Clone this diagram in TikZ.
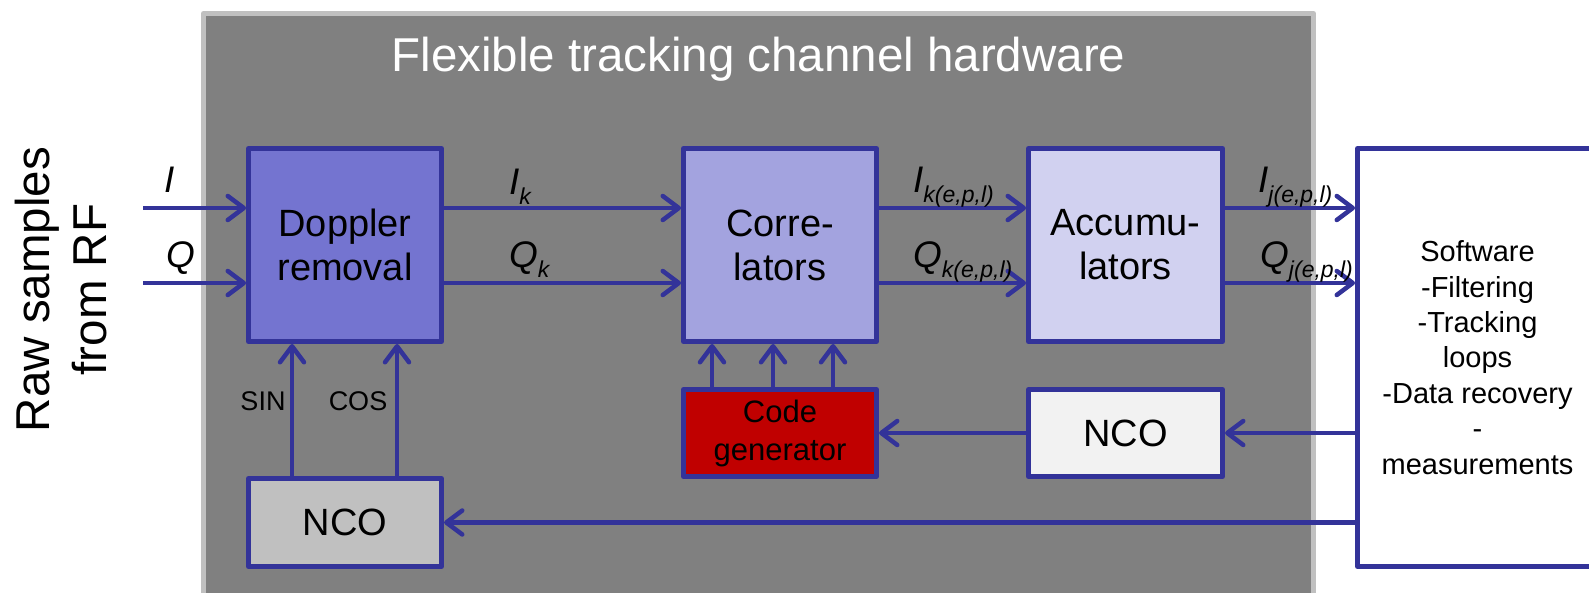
\documentclass[tikz,border=0pt]{standalone}
\usepackage{fontspec}
\setmainfont{Liberation Sans}
\usetikzlibrary{arrows.meta}
\definecolor{linkblue}{HTML}{333399}
\definecolor{panelgray}{HTML}{808080}
\definecolor{panelrim}{HTML}{C0C0C0}
\definecolor{dopblue}{HTML}{7474D0}
\definecolor{corblue}{HTML}{A3A3DF}
\definecolor{accblue}{HTML}{D1D1F0}
\definecolor{codered}{HTML}{C00000}
\definecolor{ncolight}{HTML}{F2F2F2}
\definecolor{ncogray}{HTML}{C0C0C0}
\newcommand{\sgnl}[2]{#1\raisebox{-9.5pt}{\fontsize{23}{23}\selectfont #2}}
\newcommand{\boxfont}{\fontsize{38}{44}\selectfont}

\begin{document}
\begin{tikzpicture}[x=1pt, y=-1pt, line join=round,
    blk/.style={draw=linkblue, line width=5pt, inner sep=0pt, align=center, font=\boxfont},
    arr/.style={draw=linkblue, line width=4.5pt, -{Straight Barb[length=16pt,width=24pt,round]}},
    lbl/.style={inner sep=0pt, anchor=base west, font=\fontsize{37}{44}\selectfont\itshape}]
    \path[use as bounding box, fill=white] (0,0) rectangle (1589,593);
    \clip (0,0) rectangle (1589,593);
    % hardware panel
    \draw[draw=panelrim, fill=panelgray, line width=5pt] (203.5,13.5) rectangle (1313.5,620);
    \node[anchor=base, inner sep=0pt, text=white, font=\fontsize{47.5}{57}\selectfont] (title) at (758.5,72) {Flexible tracking channel hardware};
    \node[rotate=90, inner sep=0pt, align=center, font=\fontsize{47.5}{57}\selectfont] (raw) at (61,289.5) {Raw samples\\from RF};
    % blocks
    \node[blk, fill=dopblue, minimum width=193pt, minimum height=193pt] (dop) at (345,245) {Doppler\\removal};
    \node[blk, fill=corblue, minimum width=193pt, minimum height=193pt] (cor) at (780,245) {Corre-\\lators};
    \node[blk, fill=accblue, minimum width=194pt, minimum height=193pt] (acc) at (1125.5,245) {Accumu-\\lators};
    \node[blk, fill=codered, minimum width=193pt, minimum height=87pt, font=\fontsize{31}{38}\selectfont] (cg) at (780,433) {Code\\generator};
    \node[blk, fill=ncolight, minimum width=194pt, minimum height=87pt] (nco2) at (1125.5,433) {NCO};
    \node[blk, fill=ncogray, minimum width=193pt, minimum height=88pt] (nco1) at (345,522.5) {NCO};
    \node[blk, fill=white, minimum width=240pt, minimum height=418pt, font=\fontsize{29}{35.4}\selectfont] (sw) at (1477.5,357.5) {Software\\-Filtering\\-Tracking\\loops\\-Data recovery\\-\\measurements};
    % I and Q paths
    \coordinate (rawI) at (143,208);
    \coordinate (rawQ) at (143,283);
    \draw[arr] (rawI) -- (rawI -| dop.west);
    \draw[arr] (rawQ) -- (rawQ -| dop.west);
    \draw[arr] (rawI -| dop.east) -- (rawI -| cor.west);
    \draw[arr] (rawQ -| dop.east) -- (rawQ -| cor.west);
    \draw[arr] (rawI -| cor.east) -- (rawI -| acc.west);
    \draw[arr] (rawQ -| cor.east) -- (rawQ -| acc.west);
    \draw[arr] (rawI -| acc.east) -- (rawI -| sw.west);
    \draw[arr] (rawQ -| acc.east) -- (rawQ -| sw.west);
    % feedback
    \foreach \x in {712,773,833} \draw[arr] (\x,0 |- cg.north) -- (\x,0 |- cor.south);
    \draw[arr] ([xshift=-53pt]nco1.north) -- ([xshift=-53pt]dop.south);
    \draw[arr] ([xshift=52pt]nco1.north) -- ([xshift=52pt]dop.south);
    \draw[arr] (nco2.west) -- (cg.east);
    \draw[arr] (sw.west |- nco2) -- (nco2.east);
    \draw[arr] (sw.west |- nco1) -- (nco1.east);
    % labels
    \node[lbl] (lI) at (164,193) {I};
    \node[lbl] (lQ) at (166,268) {Q};
    \node[lbl] (lIk) at (509,195) {\sgnl{I}{k}};
    \node[lbl] (lQk) at (509,268) {\sgnl{Q}{k}};
    \node[lbl] (lIkc) at (913,193) {\sgnl{I}{k(e,p,l)}};
    \node[lbl] (lQkc) at (913,268) {\sgnl{Q}{k(e,p,l)}};
    \node[lbl] (lIj) at (1258,193) {\sgnl{I}{j(e,p,l)}};
    \node[lbl] (lQj) at (1260,268) {\sgnl{Q}{j(e,p,l)}};
    \node[anchor=base, inner sep=0pt, font=\fontsize{27}{32}\selectfont] (lsin) at (263,410) {SIN};
    \node[anchor=base, inner sep=0pt, font=\fontsize{27}{32}\selectfont] (lcos) at (358,410) {COS};
\end{tikzpicture}
\end{document}
